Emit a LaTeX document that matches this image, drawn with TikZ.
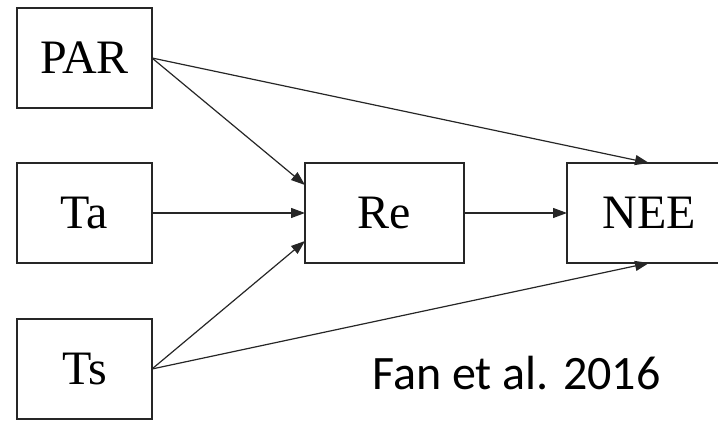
\documentclass[tikz,border=0pt]{standalone}
\usepackage{fontspec}
\setmainfont{Liberation Serif}
\newfontfamily\notefont{Carlito}
\usetikzlibrary{positioning,arrows.meta}
\tikzset{
	box/.style = {
		draw = black!85,
		fill = white,
		rectangle,
		line width = 1pt,
		inner sep = 0pt,
		outer sep = 0pt,
		text centered,
		font = \fontsize{24}{28}\selectfont,
		minimum height = 50pt,
		minimum width = 67.5pt
	},
	link/.style = {
		-{Triangle[length=7pt,width=5pt]},
		line width = 0.6pt,
		draw = black!85
	}
}

\begin{document}
\begin{tikzpicture}
    \useasboundingbox (0,0) rectangle (359pt,210.5pt) ;
    \clip (0,0) rectangle (359pt,210.5pt) ;

    \node [box] (PAR) at (42.25pt,181.5pt) {PAR} ;
    \node [box, below = 27.5pt of PAR] (Ta) {Ta} ;
    \node [box, below = 28pt of Ta] (Ts) {Ts} ;
    \node [box, minimum width = 79.5pt, right = 76.5pt of Ta] (Re) {Re} ;
    % NEE runs off the right edge
    \node [box, minimum width = 82pt, right = 51.5pt of Re] (NEE) {NEE} ;

    \draw [link] (PAR.east) -- ([yshift=14pt]Re.west) ;
    \draw [link] (PAR.east) -- (NEE.north) ;
    \draw [link] (Ta.east) -- (Re.west) ;
    \draw [link] (Ts.east) -- ([yshift=-14pt]Re.west) ;
    \draw [link] (Ts.east) -- (NEE.south) ;
    \draw [link] (Re.east) -- (NEE.west) ;

    \node [anchor = base west, inner sep = 0pt, font = \notefont\fontsize{24}{28}\selectfont] (ref) at (186pt,15.5pt) {Fan et al. 2016} ;
\end{tikzpicture}
\end{document}
